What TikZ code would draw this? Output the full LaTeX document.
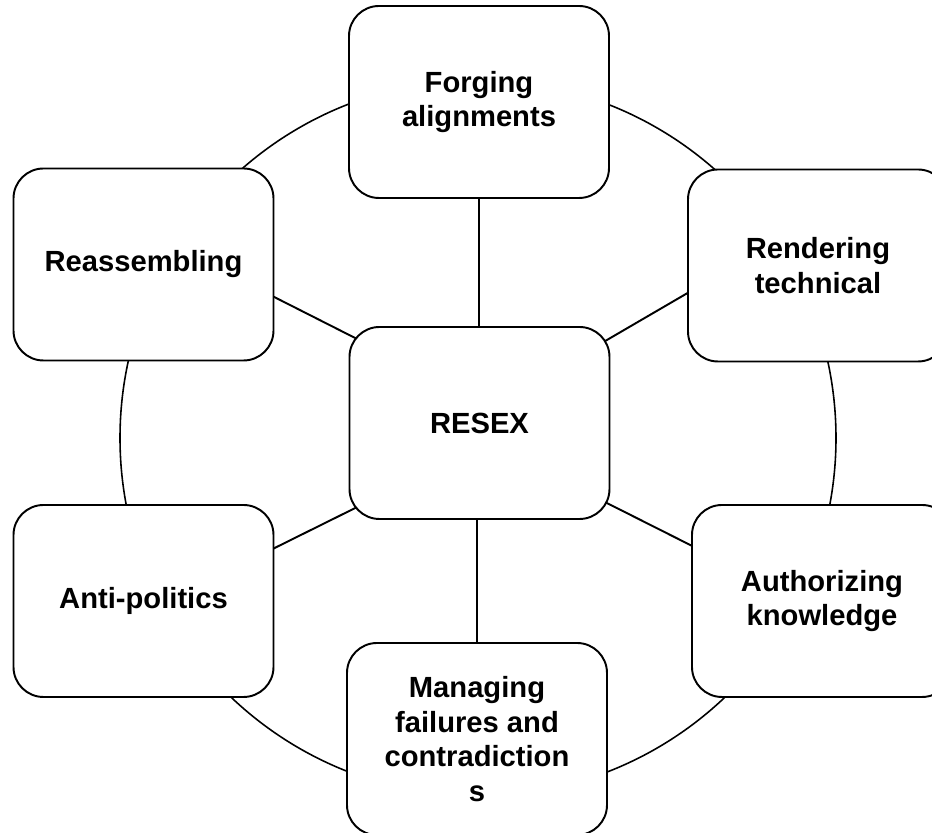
\documentclass[tikz,border=0pt]{standalone}
\usepackage{fontspec}
\setmainfont{Liberation Sans}
\usepackage{tikz}
\usetikzlibrary{backgrounds,calc}
\tikzset{
  stagebox/.style={draw, fill=white, line width=1.1pt, rounded corners=0.6cm, minimum width=5.2cm, minimum height=3.84cm, align=center, font=\fontsize{16.6}{19.6}\selectfont\bfseries},
  spoke/.style={line width=1.1pt, shorten <=-6pt, shorten >=-10pt},
  ring/.style={line width=0.9pt},
}
\begin{document}
\begin{tikzpicture}
  \useasboundingbox (0,0) rectangle (18.64,16.66);

  % Hub and the six stages round it
  \node[stagebox] (resex) at (9.59,8.2) {RESEX};
  \node[stagebox] (forge) at (9.58,14.62) {Forging\\alignments};
  \node[stagebox] (render) at (16.36,11.35) {Rendering\\technical};
  \node[stagebox] (author) at (16.44,4.64) {Authorizing\\knowledge};
  \node[stagebox] (manage) at (9.54,1.88) {Managing\\failures and\\contradiction\\s};
  \node[stagebox] (anti) at (2.87,4.64) {Anti-politics};
  \node[stagebox] (reas) at (2.87,11.37) {Reassembling};

  % Ring and spokes behind the boxes
  \begin{scope}[on background layer]
    \coordinate (hub) at (9.56,7.9);
    \draw[ring] (hub) circle (7.16cm);
    \draw[spoke] (forge.south) -- (forge.south |- resex.north);
    \draw[spoke] (manage.north) -- (manage.north |- resex.south);
    \draw[spoke] (reas.-14.1) -- (resex.146.7);
    \draw[spoke] (render.-168.1) -- (resex.33.1);
    \draw[spoke] (anti.22.4) -- (resex.-146);
    \draw[spoke] (author.157.4) -- (resex.-32.5);
  \end{scope}
\end{tikzpicture}
\end{document}
